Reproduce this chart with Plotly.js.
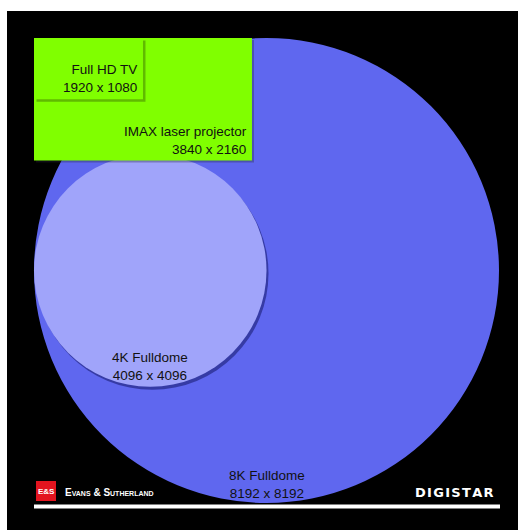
<!DOCTYPE html>
<html>
<head>
<meta charset="utf-8">
<script src="https://cdn.plot.ly/plotly-3.0.1.min.js"></script>
<style>html,body{margin:0;padding:0;background:#fff;}#chart{width:518px;height:530px;}</style>
</head>
<body>
<div id="chart"></div>
<script>
// Resolutions (pixels)
const names = ["Full HD TV", "IMAX laser projector", "4K Fulldome", "8K Fulldome"];
const widths = [1920, 3840, 4096, 8192];
const heights = [1080, 2160, 4096, 8192];
const kinds = ["rect", "rect", "circle", "circle"];

const W = 518, H = 530;
const originPx = [34, 38];           // where (0,0) of the resolution space sits
const scale = 8192 / 465;            // resolution units per screen pixel
const px = (p) => p * scale;
const PX = (x) => x / W, PY = (y) => 1 - y / H;

const fillCol = {"Full HD TV": "#80ff00", "IMAX laser projector": "#80ff00", "4K Fulldome": "#a0a4fa", "8K Fulldome": "#5f67ef"};

const shapes = [];
// black slide background
shapes.push({type: "rect", xref: "paper", yref: "paper", x0: PX(7), x1: 1, y0: 0, y1: PY(11),
  fillcolor: "#000", line: {width: 0}, layer: "below"});

function addShape(i, withShadow, shadowCol, dx, dy) {
  const w = widths[i], h = heights[i];
  const t = kinds[i];
  let x0 = 0, y0 = 0, x1 = w, y1 = h;
  if (t === "circle") { y0 = (heights[3] - h) / 2; y1 = y0 + h; }
  if (withShadow) {
    shapes.push({type: t, xref: "x", yref: "y", x0: x0 + px(dx), x1: x1 + px(dx), y0: y0 + px(dy), y1: y1 + px(dy),
      fillcolor: shadowCol, line: {width: 0}, layer: "above"});
  }
  shapes.push({type: t, xref: "x", yref: "y", x0: x0, x1: x1, y0: y0, y1: y1,
    fillcolor: fillCol[names[i]], line: {width: 0}, layer: "above"});
}
addShape(3, false);
addShape(2, true, "rgba(40,44,140,0.75)", 2, 3);
addShape(1, true, "rgba(40,40,60,0.35)", 2, 2);
addShape(0, true, "rgba(70,130,0,0.55)", 2.5, 2.5);

// footer line and logo
shapes.push({type: "rect", xref: "paper", yref: "paper", x0: PX(34), x1: PX(500), y0: PY(508.5), y1: PY(504.5),
  fillcolor: "#ffffff", line: {width: 0}, layer: "above"});
shapes.push({type: "rect", xref: "paper", yref: "paper", x0: PX(36), x1: PX(56), y0: PY(501), y1: PY(481),
  fillcolor: "#e3141f", line: {width: 0}, layer: "above"});

const lblFont = {family: "Liberation Sans, Arial, sans-serif", size: 13.5, color: "#111111"};
const labels = names.map((n, i) => n + "<br>" + widths[i] + " x " + heights[i]);

const annotations = [
  {x: widths[0], y: heights[0], xref: "x", yref: "y", text: labels[0], showarrow: false,
    xanchor: "right", yanchor: "bottom", align: "right", xshift: -4, yshift: 2, font: lblFont},
  {x: widths[1], y: heights[1], xref: "x", yref: "y", text: labels[1], showarrow: false,
    xanchor: "right", yanchor: "bottom", align: "right", xshift: -3, yshift: 1.5, font: lblFont},
  {x: widths[2] / 2, y: (heights[3] + heights[2]) / 2, xref: "x", yref: "y", text: labels[2], showarrow: false,
    xanchor: "center", yanchor: "bottom", align: "center", xshift: 0, yshift: 1.5, font: lblFont},
  {x: widths[3] / 2, y: heights[3], xref: "x", yref: "y", text: labels[3], showarrow: false,
    xanchor: "center", yanchor: "bottom", align: "center", xshift: 0, yshift: 0, font: lblFont},
  {x: PX(46), y: PY(491), xref: "paper", yref: "paper", text: "<b>E&amp;S</b>", showarrow: false,
    xanchor: "center", yanchor: "middle", font: {family: "Liberation Sans, Arial", size: 8, color: "#fff"}},
  {x: PX(63), y: PY(492), xref: "paper", yref: "paper", text: "<b>Evans &amp; Sutherland</b>", showarrow: false,
    xanchor: "left", yanchor: "middle", font: {family: "Liberation Sans, Arial", size: 10, color: "#fff", variant: "small-caps"}},
  {x: PX(496), y: PY(492), xref: "paper", yref: "paper", text: "<b>D\u200aI\u200aG\u200aI\u200aS\u200aT\u200aA\u200aR</b>", showarrow: false,
    xanchor: "right", yanchor: "middle", font: {family: "DejaVu Sans, sans-serif", size: 13, color: "#fff"}}
];

const layout = {
  width: W, height: H,
  margin: {l: 0, r: 0, t: 0, b: 0, pad: 0},
  paper_bgcolor: "#ffffff", plot_bgcolor: "rgba(0,0,0,0)",
  showlegend: false,
  xaxis: {range: [-px(originPx[0]), px(W - originPx[0])], visible: false, fixedrange: true},
  yaxis: {range: [px(H - originPx[1]), -px(originPx[1])], visible: false, fixedrange: true},
  shapes: shapes,
  annotations: annotations
};

const trace = {x: widths.map(w => w / 2), y: heights.map(h => h / 2), text: names, mode: "markers",
  type: "scatter", marker: {opacity: 0}, hoverinfo: "text"};

Plotly.newPlot("chart", [trace], layout, {displayModeBar: false, staticPlot: true});
</script>
</body>
</html>
